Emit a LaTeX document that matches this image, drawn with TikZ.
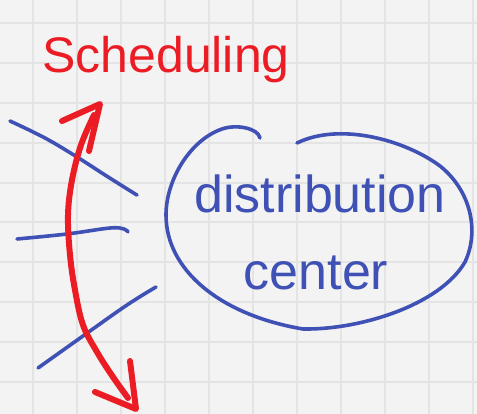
\documentclass[tikz,border=0pt]{standalone}
\usepackage{fontspec}
\setmainfont{Liberation Sans}
\definecolor{paper}{HTML}{F3F3F3}
\definecolor{gridc}{HTML}{E4E4E4}
\definecolor{inkred}{HTML}{EC1C24}
\definecolor{inkblue}{HTML}{3F51B5}
\begin{document}
\begin{tikzpicture}[x=1pt,y=-1pt,
  bluestroke/.style={draw=inkblue,line width=3.6pt,line cap=round,line join=round},
  redstroke/.style={draw=inkred,line width=6pt,line cap=round,line join=round},
  gridline/.style={draw=gridc,line width=2pt}]
\useasboundingbox (0,0) rectangle (477,414);
\fill[paper] (0,0) rectangle (477,414);
\foreach \i in {0,...,10} \draw[gridline] (33+44*\i,0) -- (33+44*\i,414);
\foreach \j in {0,...,9} \draw[gridline] (0,23+39.9*\j) -- (477,23+39.9*\j);
% title
\node[anchor=base,text=inkred,font=\fontsize{50}{50}\selectfont,inner sep=0pt] (title) at (166,73) {Scheduling};
% ellipse
\draw[bluestroke] (260,138) .. controls (258,128) and (236,124) .. (222,129)
  .. controls (190,140) and (166,180) .. (166,215)
  .. controls (166,270) and (220,315) .. (303,329)
  .. controls (360,330) and (440,305) .. (465,262)
  .. controls (480,230) and (470,190) .. (440,166)
  .. controls (405,140) and (340,122) .. (297,143);
\node[anchor=base,text=inkblue,font=\fontsize{52}{52}\selectfont,inner sep=0pt] (dist) at (320,213) {distribution};
\node[anchor=base,text=inkblue,font=\fontsize{52}{52}\selectfont,inner sep=0pt] (cent) at (316,290) {center};
% left blue strokes
\draw[bluestroke] plot[smooth,tension=0.6] coordinates {(10,121) (45,138) (77,157) (105,175) (132,192) (137,195)};
\draw[bluestroke] plot[smooth,tension=0.6] coordinates {(17,239) (67,234) (110,228) (124,229) (128,232)};
\draw[bluestroke] plot[smooth,tension=0.6] coordinates {(38,368) (83,336) (127,305) (156,287)};
% red arrow
\coordinate (topTip) at (100,104);
\coordinate (botTip) at (136,409);
\draw[redstroke] plot[smooth,tension=0.6] coordinates {(94,115) (81,145) (72,180) (68,215) (70,255) (75,290) (83,325) (97,352) (113,377) (128,398)};
\draw[redstroke] (62,121) -- (topTip) -- (89,151);
\draw[redstroke] (130,361) -- (botTip) -- (95,392);
\end{tikzpicture}
\end{document}
